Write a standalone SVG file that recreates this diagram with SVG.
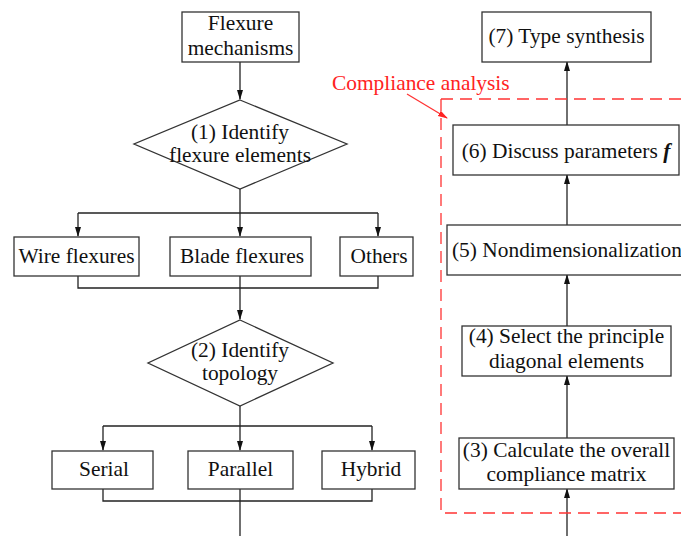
<svg xmlns="http://www.w3.org/2000/svg" width="681" height="536" viewBox="0 0 681 536">
<style>
.box{fill:#fff;stroke:#333;stroke-width:1.3}
.t{font-family:"Liberation Serif","Times New Roman",serif;font-size:21.4px;fill:#111;text-anchor:middle}
.c{fill:none;stroke:#222;stroke-width:1.3}
.red{fill:none;stroke:#f33;stroke-width:1.3}
</style>
<defs>
<marker id="ah" markerWidth="10" markerHeight="10" refX="9" refY="5" orient="auto" markerUnits="userSpaceOnUse">
<path d="M0,2 L10,5 L0,8 Z" fill="#111"/>
</marker>
<marker id="ahr" markerWidth="10" markerHeight="10" refX="9" refY="5" orient="auto" markerUnits="userSpaceOnUse">
<path d="M0,2 L10,5 L0,8 Z" fill="#f22"/>
</marker>
</defs>
<g id="connectors">
<path class="c" d="M240,62 V99" marker-end="url(#ah)"/>
<path class="c" d="M240,189 V236" marker-end="url(#ah)"/>
<path class="c" d="M78,213 H378"/>
<path class="c" d="M78,213 V236" marker-end="url(#ah)"/>
<path class="c" d="M378,213 V236" marker-end="url(#ah)"/>
<path class="c" d="M78,276 V288 H378 V276"/>
<path class="c" d="M240,276 V319" marker-end="url(#ah)"/>
<path class="c" d="M240,406 V450" marker-end="url(#ah)"/>
<path class="c" d="M103,426 H372"/>
<path class="c" d="M103,426 V450" marker-end="url(#ah)"/>
<path class="c" d="M372,426 V450" marker-end="url(#ah)"/>
<path class="c" d="M103,489 V501 H372 V489"/>
<path class="c" d="M240,489 V536"/>
<path class="c" d="M567,536 V489" marker-end="url(#ah)"/>
<path class="c" d="M567,438 V376" marker-end="url(#ah)"/>
<path class="c" d="M567,326 V275" marker-end="url(#ah)"/>
<path class="c" d="M567,225 V175" marker-end="url(#ah)"/>
<path class="c" d="M567,125 V62" marker-end="url(#ah)"/>
<path class="red" d="M407,94 L447,118" marker-end="url(#ahr)"/>
</g>
<g id="compliance">
<path class="red" d="M441,99 H690 M441,99 V513 H690" stroke-dasharray="12,7"/>
<text x="332" y="90" style="font-family:'Liberation Serif','Times New Roman',serif;font-size:21.4px;fill:#f22">Compliance analysis</text>
</g>
<g id="flexure-mechanisms">
<rect class="box" x="182" y="12" width="117" height="50"/>
<text class="t" x="240.5" y="30">Flexure</text>
<text class="t" x="240.5" y="55">mechanisms</text>
</g>
<g id="identify-elements">
<polygon class="box" points="240,100 347,144 240,189 134,144"/>
<text class="t" x="240" y="139">(1) Identify</text>
<text class="t" x="240" y="162">flexure elements</text>
</g>
<g id="wire">
<rect class="box" x="14" y="237" width="125" height="39"/>
<text class="t" x="76.5" y="263">Wire flexures</text>
</g>
<g id="blade">
<rect class="box" x="170" y="237" width="141" height="39"/>
<text class="t" x="242" y="263">Blade flexures</text>
</g>
<g id="others">
<rect class="box" x="340" y="237" width="73" height="39"/>
<text class="t" x="379" y="263">Others</text>
</g>
<g id="identify-topology">
<polygon class="box" points="240,320 333,363 240,406 148,363"/>
<text class="t" x="240" y="357">(2) Identify</text>
<text class="t" x="240" y="380">topology</text>
</g>
<g id="serial">
<rect class="box" x="52" y="451" width="101" height="38"/>
<text class="t" x="104" y="476">Serial</text>
</g>
<g id="parallel">
<rect class="box" x="188" y="451" width="105" height="38"/>
<text class="t" x="240.5" y="476">Parallel</text>
</g>
<g id="hybrid">
<rect class="box" x="322" y="451" width="93" height="38"/>
<text class="t" x="371" y="476">Hybrid</text>
</g>
<g id="type-synthesis">
<rect class="box" x="482" y="12" width="169" height="50"/>
<text class="t" x="566.5" y="43">(7) Type synthesis</text>
</g>
<g id="discuss">
<rect class="box" x="453" y="125" width="226" height="50"/>
<text class="t" x="566" y="158">(6) Discuss parameters <tspan font-weight="bold" font-style="italic">f</tspan></text>
</g>
<g id="nondim">
<rect class="box" x="447" y="225" width="240" height="50"/>
<text class="t" x="452" y="257" style="text-anchor:start">(5) Nondimensionalization</text>
</g>
<g id="select">
<rect class="box" x="462" y="326" width="209" height="50"/>
<text class="t" x="566.5" y="343">(4) Select the principle</text>
<text class="t" x="566.5" y="368">diagonal elements</text>
</g>
<g id="calculate">
<rect class="box" x="459" y="438" width="215" height="51"/>
<text class="t" x="566.5" y="457">(3) Calculate the overall</text>
<text class="t" x="566.5" y="481">compliance matrix</text>
</g>
</svg>
